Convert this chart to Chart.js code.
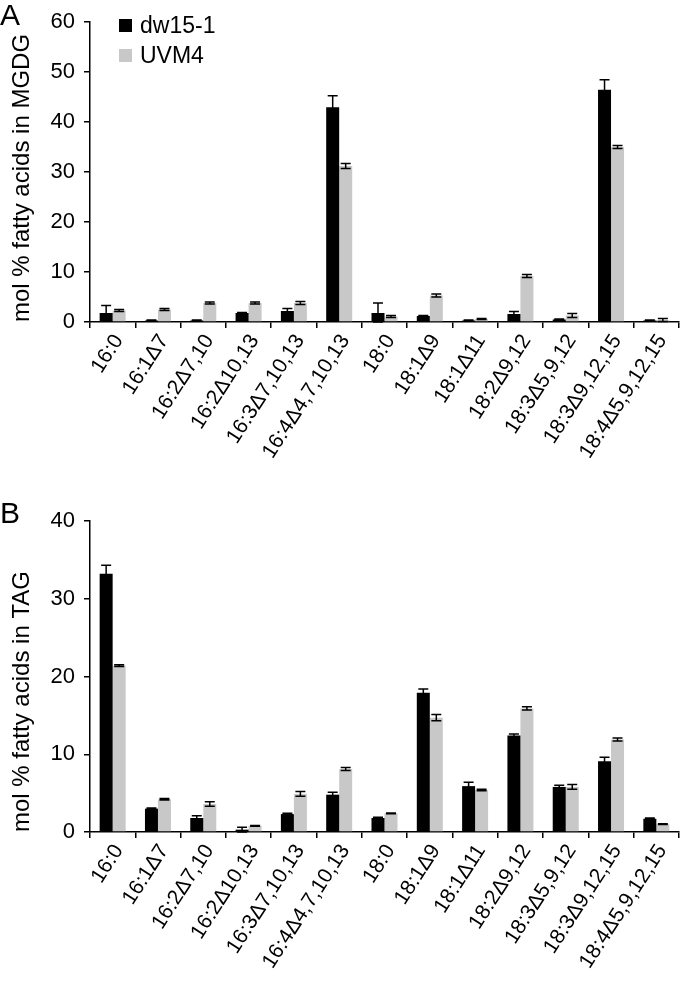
<!DOCTYPE html>
<html>
<head>
<meta charset="utf-8">
<script src="https://cdn.jsdelivr.net/npm/chart.js@4.4.1/dist/chart.umd.min.js"></script>
<style>
  html, body { margin: 0; padding: 0; background: #fff; }
  body { width: 680px; height: 984px; position: relative; overflow: hidden; font-family: 'Liberation Sans', Arial, sans-serif; }
  .panel { position: absolute; left: 0; width: 680px; }
  #panelA { top: 0; height: 470px; }
  #panelB { top: 470px; height: 514px; }
  .letter { position: absolute; left: 0; font-size: 30px; line-height: 30px; color: #000; }
  .legend { position: absolute; left: 119px; top: 10px; font-size: 23px; color: #000; }
  .legend-item { display: flex; align-items: center; height: 30px; }
  .legend-dot { width: 13px; height: 13px; margin-right: 8px; display: inline-block; }
</style>
</head>
<body>
<div class="panel" id="panelA"><canvas id="mgdgChart"></canvas></div>
<div class="panel" id="panelB"><canvas id="tagChart"></canvas></div>
<div class="letter" style="top:0px">A</div>
<div class="letter" style="top:498px">B</div>
<div class="legend" id="legendA"></div>

<script>
/* ---- data ---- */
const categories = ['16:0', '16:1Δ7', '16:2Δ7,10', '16:2Δ10,13', '16:3Δ7,10,13', '16:4Δ4,7,10,13',
  '18:0', '18:1Δ9', '18:1Δ11', '18:2Δ9,12', '18:3Δ5,9,12', '18:3Δ9,12,15', '18:4Δ5,9,12,15'];
const seriesNames = ['dw15-1', 'UVM4'];

// MGDG (panel A)
const mgdgDw = [1.8, 0.3, 0.3, 1.8, 2.2, 43.0, 1.8, 1.2, 0.3, 1.6, 0.5, 46.5, 0.3];
const mgdgDwErr = [1.5, 0.1, 0.1, 0.1, 0.5, 2.3, 2.0, 0.1, 0.1, 0.5, 0.1, 2.0, 0.1];
const mgdgUvm = [2.3, 2.5, 3.8, 3.8, 3.8, 31.2, 1.1, 5.3, 0.6, 9.2, 1.3, 35.0, 0.4];
const mgdgUvmErr = [0.2, 0.2, 0.2, 0.2, 0.3, 0.5, 0.2, 0.3, 0.1, 0.3, 0.4, 0.3, 0.3];

// TAG (panel B)
const tagDw = [33.2, 3.0, 1.8, 0.3, 2.3, 4.8, 1.8, 17.9, 5.9, 12.4, 5.8, 9.1, 1.7];
const tagDwErr = [1.1, 0.1, 0.3, 0.3, 0.1, 0.3, 0.1, 0.5, 0.5, 0.2, 0.2, 0.5, 0.1];
const tagUvm = [21.4, 4.2, 3.6, 0.8, 4.9, 8.1, 2.4, 14.7, 5.4, 15.9, 5.8, 11.9, 1.0];
const tagUvmErr = [0.1, 0.1, 0.3, 0.05, 0.3, 0.2, 0.05, 0.4, 0.1, 0.2, 0.3, 0.2, 0.05];

const COLORS = ['#000000', '#c8c8c8'];
const FONT = "'Liberation Sans', Arial, sans-serif";

/* ---- error bars drawn through the y scale ---- */
const errorBars = {
  id: 'errorBars',
  afterDatasetsDraw(chart) {
    const { ctx, scales: { y } } = chart;
    ctx.save();
    ctx.strokeStyle = '#000';
    ctx.lineWidth = 1.5;
    chart.data.datasets.forEach((ds, i) => {
      const meta = chart.getDatasetMeta(i);
      meta.data.forEach((bar, j) => {
        const v = ds.data[j];
        const e = ds.errors[j];
        const top = y.getPixelForValue(v + e);
        const bot = y.getPixelForValue(Math.max(0, v - e));
        const hw = 5;
        ctx.beginPath();
        ctx.moveTo(bar.x, top); ctx.lineTo(bar.x, bot);
        ctx.moveTo(bar.x - hw, top); ctx.lineTo(bar.x + hw, top);
        ctx.moveTo(bar.x - hw, bot); ctx.lineTo(bar.x + hw, bot);
        ctx.stroke();
      });
    });
    ctx.restore();
  },
};

function makeChart(canvasId, values, errors, yMax, yTitle, padTop, xHeight) {
  return new Chart(document.getElementById(canvasId), {
    type: 'bar',
    data: {
      labels: categories,
      datasets: values.map((vals, i) => ({
        label: seriesNames[i],
        data: vals,
        errors: errors[i],
        backgroundColor: COLORS[i],
        borderWidth: 0,
        categoryPercentage: 0.574,
        barPercentage: 1.0,
      })),
    },
    options: {
      responsive: true, maintainAspectRatio: false, animation: false,
      layout: { padding: { top: padTop, right: 1, left: 0, bottom: 0 } },
      plugins: { legend: { display: false }, tooltip: { enabled: false } },
      scales: {
        x: {
          afterFit: (s) => { s.height = xHeight; },
          border: { color: '#000', width: 1.5 },
          grid: { offset: true, drawOnChartArea: false, tickLength: 6, color: '#000', lineWidth: 1.5 },
          ticks: { color: '#000', font: { family: FONT, size: 21 }, maxRotation: 57, minRotation: 57, autoSkip: false, padding: 2, labelOffset: 6 },
        },
        y: {
          min: 0, max: yMax,
          afterFit: (s) => { s.width = 90; },
          border: { color: '#000', width: 1.5 },
          grid: { drawOnChartArea: false, tickLength: 6, color: '#000', lineWidth: 1.5 },
          ticks: { stepSize: 10, color: '#000', font: { family: FONT, size: 22 }, padding: 9 },
          title: { display: true, text: yTitle, align: 'start', color: '#000', font: { family: FONT, size: 24 }, padding: { top: 8, bottom: 0 } },
        },
      },
    },
    plugins: [errorBars],
  });
}

/* ---- legend for panel A ---- */
function renderLegend(containerId) {
  document.getElementById(containerId).innerHTML = seriesNames.map((name, i) => `
    <div class="legend-item"><span class="legend-dot" style="background:${COLORS[i]}"></span>${name}</div>`).join('');
}

renderLegend('legendA');
makeChart('mgdgChart', [mgdgDw, mgdgUvm], [mgdgDwErr, mgdgUvmErr], 60, 'mol % fatty acids in MGDG', 15, 148);
makeChart('tagChart', [tagDw, tagUvm], [tagDwErr, tagUvmErr], 40, 'mol % fatty acids in TAG', 51, 152);
</script>
</body>
</html>
